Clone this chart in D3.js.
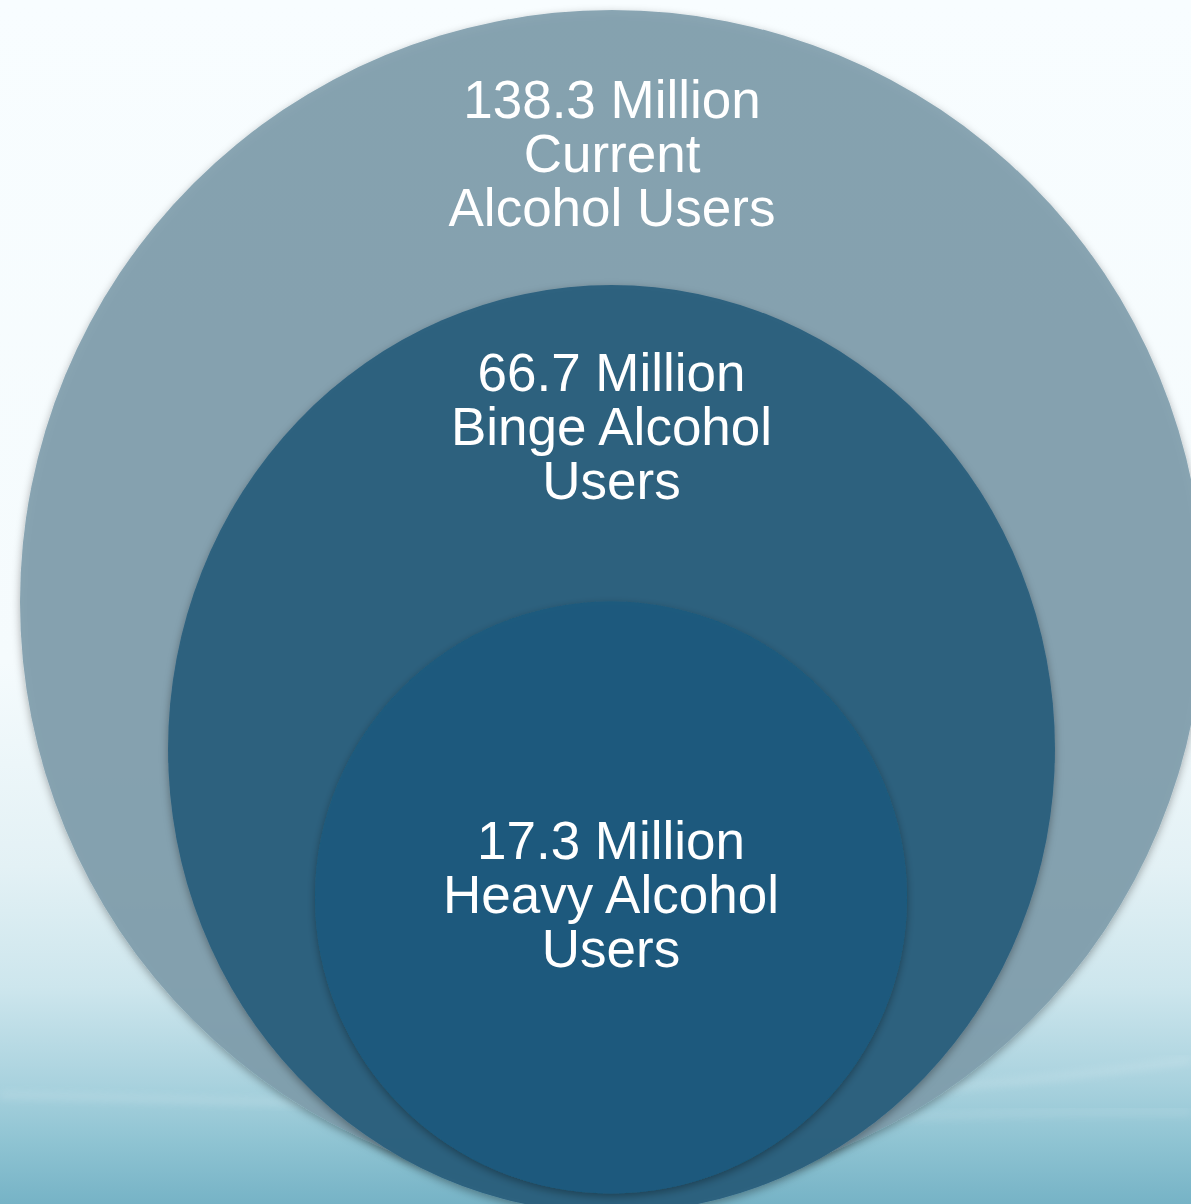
<!DOCTYPE html>
<html>
<head>
<meta charset="utf-8">
<script src="https://cdn.jsdelivr.net/npm/d3@7"></script>
<style>
  html, body { margin: 0; padding: 0; background: #f7fcfe; }
  svg { display: block; }
</style>
</head>
<body>
<svg></svg>
<script>
// data
var categories = ['Current Alcohol Users', 'Binge Alcohol Users', 'Heavy Alcohol Users']
var values = [138.3, 66.7, 17.3]
var lines = [
    ['Current', 'Alcohol Users'],
    ['Binge Alcohol', 'Users'],
    ['Heavy Alcohol', 'Users']
]

var W = 1191, H = 1204

// shape of each ring (picture layout, not data)
var shape = d3.scaleOrdinal()
    .domain(categories)
    .range([
        {cx: 612, cy: 602, rx: 592, ry: 592, fill: '#7f9dac', top: 118},
        {cx: 611.5, cy: 749, rx: 443.5, ry: 464, fill: '#2c607e', top: 391},
        {cx: 611, cy: 897.5, rx: 296, ry: 296, fill: '#1b5a7e', top: 859}
    ])

var rows = categories.map(function(c, i){
    return {name: c, value: values[i], text: [values[i] + ' Million'].concat(lines[i])}
})

var svg = d3.select('svg')
    .attr('width', W)
    .attr('height', H)

var defs = svg.append('defs')

var bg = defs.append('linearGradient')
    .attr('id', 'bg')
    .attr('x1', 0).attr('y1', 0)
    .attr('x2', 0).attr('y2', 1)
var stops = [[0, '#f8fdff'], [0.55, '#f5fbfd'], [0.72, '#e3f1f5'], [0.82, '#cde6ed'],
             [0.9, '#a9d2de'], [0.95, '#8ec3d2'], [1, '#76b3c6']]
bg.selectAll('stop')
    .data(stops)
    .enter()
    .append('stop')
    .attr('offset', function(d){ return d[0] })
    .attr('stop-color', function(d){ return d[1] })

var shadow = defs.append('filter')
    .attr('id', 'shadow')
    .attr('x', '-10%').attr('y', '-10%')
    .attr('width', '120%').attr('height', '120%')
shadow.append('feDropShadow')
    .attr('dx', 0)
    .attr('dy', 3)
    .attr('stdDeviation', 4)
    .attr('flood-color', '#000')
    .attr('flood-opacity', 0.35)

var soft = defs.append('filter').attr('id', 'soft')
soft.append('feGaussianBlur').attr('stdDeviation', 4)

svg.append('rect')
    .attr('width', W)
    .attr('height', H)
    .attr('fill', 'url(#bg)')

/* faint light streaks in the background */
svg.append('path')
    .attr('d', 'M0,1095 C300,1100 700,1130 1191,1060')
    .attr('fill', 'none')
    .attr('stroke', '#ffffff')
    .attr('stroke-width', 5)
    .attr('opacity', 0.2)
    .attr('filter', 'url(#soft)')
svg.append('path')
    .attr('d', 'M500,1140 C800,1120 1000,1110 1191,1112')
    .attr('fill', 'none')
    .attr('stroke', '#ffffff')
    .attr('stroke-width', 4)
    .attr('opacity', 0.18)
    .attr('filter', 'url(#soft)')

svg.selectAll('ellipse.ring')
    .data(rows)
    .enter()
    .append('ellipse')
    .attr('class', 'ring')
    .attr('cx', function(d){ return shape(d.name).cx })
    .attr('cy', function(d){ return shape(d.name).cy })
    .attr('rx', function(d){ return shape(d.name).rx })
    .attr('ry', function(d){ return shape(d.name).ry })
    .attr('fill', function(d){ return shape(d.name).fill })
    .attr('fill-opacity', function(d, i){ return i == 0 ? 0.9 : 0.97 })
    .attr('filter', 'url(#shadow)')

var step = 54
svg.selectAll('text.label')
    .data(rows)
    .enter()
    .append('text')
    .attr('class', 'label')
    .attr('text-anchor', 'middle')
    .attr('fill', '#ffffff')
    .style('font-family', 'Liberation Sans, Arial, sans-serif')
    .style('font-size', '53px')
    .each(function(d){
        var s = shape(d.name)
        d3.select(this).selectAll('tspan')
            .data(d.text)
            .enter()
            .append('tspan')
            .attr('x', s.cx)
            .attr('y', function(t, j){ return s.top + j * step })
            .text(function(t){ return t })
    })
</script>
</body>
</html>
